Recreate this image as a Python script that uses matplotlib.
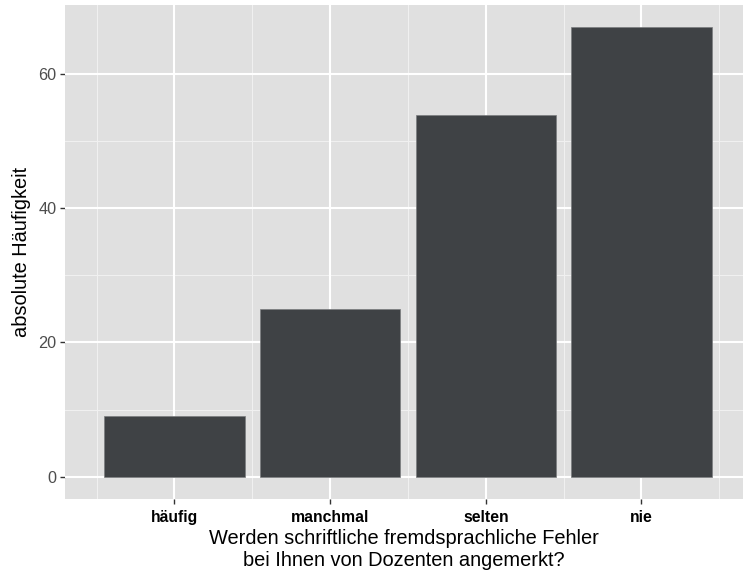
import matplotlib.pyplot as plt

# Antworten und absolute Häufigkeiten
categories = ["häufig", "manchmal", "selten", "nie"]
counts = [9, 25, 54, 67]
y_ticks = [0, 20, 40, 60]

plt.rcParams['font.family'] = ['Liberation Sans', 'DejaVu Sans']

fig = plt.figure(figsize=(7.43, 5.71), dpi=100)
ax = fig.add_axes([65 / 743, 1 - 499 / 571, 678 / 743, 494 / 571])
ax.set_facecolor('#e0e0e0')

x = list(range(1, len(categories) + 1))
ax.bar(x, counts, width=0.9, color='#3f4245', edgecolor='#7a7c7e', linewidth=0.5, zorder=3)

ax.set_xlim(0.297, 4.652)
ax.set_ylim(-3.35, 70.35)

# grid like ggplot2
for v in [10, 30, 50]:
    ax.axhline(v, color='#f0f0f0', linewidth=0.8, zorder=1)
for v in [0.5, 1.5, 2.5, 3.5, 4.5]:
    ax.axvline(v, color='#f0f0f0', linewidth=0.8, zorder=1)
for v in y_ticks:
    ax.axhline(v, color='white', linewidth=1.5, zorder=2)
for v in x:
    ax.axvline(v, color='white', linewidth=1.5, zorder=2)

ax.set_xticks(x)
ax.set_xticklabels(categories, fontweight='bold', fontsize=11.3, color='black')
ax.set_yticks(y_ticks)
ax.tick_params(axis='y', labelsize=11.7, labelcolor='#4d4d4d', pad=2.5)
ax.tick_params(axis='x', pad=4.5)
ax.tick_params(length=3.6, width=1, color='#333333')

for s in ax.spines.values():
    s.set_visible(False)

ax.set_ylabel("absolute Häufigkeit", fontsize=14.4, labelpad=5)
ax.set_xlabel("Werden schriftliche fremdsprachliche Fehler\nbei Ihnen von Dozenten angemerkt?",
              fontsize=14.4, labelpad=3, linespacing=1.15)

fig.savefig("out.png", dpi=100)
